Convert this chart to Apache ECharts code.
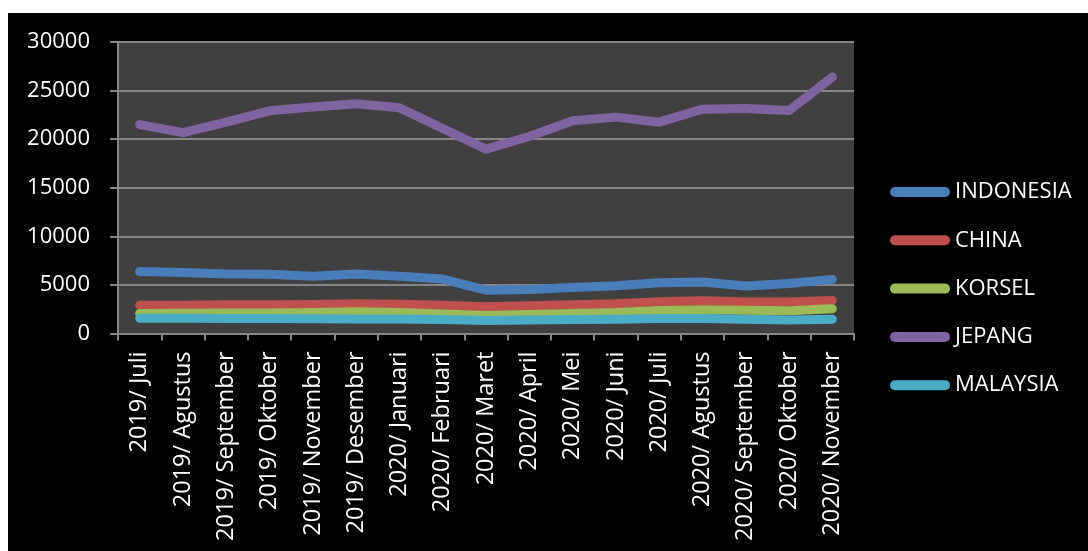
<!DOCTYPE html>
<html>
<head>
<meta charset="utf-8">
<script src="https://cdn.jsdelivr.net/npm/echarts@6/dist/echarts.min.js"></script>
<style>
html,body{margin:0;padding:0;background:#fff;width:1088px;height:551px;overflow:hidden;}
#chart{position:absolute;left:8px;top:13px;width:1080px;height:538px;}
</style>
</head>
<body>
<div id="chart"></div>
<script>
const categories = ['2019/ Juli','2019/ Agustus','2019/ September','2019/ Oktober','2019/ November','2019/ Desember','2020/ Januari','2020/ Februari','2020/ Maret','2020/ April','2020/ Mei','2020/ Juni','2020/ Juli','2020/ Agustus','2020/ September','2020/ Oktober','2020/ November'];
const indonesia = [6370, 6270, 6130, 6100, 5900, 6130, 5900, 5600, 4460, 4530, 4740, 4910, 5220, 5290, 4880, 5150, 5570];
const china     = [2920, 2920, 2950, 2950, 2980, 3050, 3000, 2900, 2750, 2850, 2950, 3050, 3280, 3380, 3250, 3250, 3400];
const korsel    = [2060, 2080, 2100, 2120, 2150, 2230, 2150, 2000, 1850, 1950, 2050, 2150, 2370, 2450, 2400, 2350, 2540];
const jepang    = [21500, 20680, 21750, 22920, 23300, 23640, 23230, 21100, 18970, 20270, 21890, 22270, 21750, 23090, 23160, 22950, 26390];
const malaysia  = [1580, 1560, 1550, 1540, 1530, 1500, 1480, 1450, 1350, 1380, 1450, 1470, 1550, 1550, 1470, 1400, 1470];
const seriesNames = ['INDONESIA','CHINA','KORSEL','JEPANG','MALAYSIA'];
const seriesData = [indonesia, china, korsel, jepang, malaysia];
const colors = ['#4a7ebb','#c0504d','#9bbb59','#8064a2','#4bacc6'];

const chart = echarts.init(document.getElementById('chart'), null, {renderer:'canvas'});
const font = 'Open Sans';
chart.setOption({
  backgroundColor: '#000',
  animation: false,
  color: colors,
  grid: {
    left: 110, top: 29, right: 234, bottom: 217.5,
    show: true, backgroundColor: '#404040', borderWidth: 0
  },
  legend: {
    orient: 'vertical',
    left: 877, top: 159,
    itemWidth: 60, itemHeight: 10, itemGap: 18.3,
    icon: 'path://M5,0 L55,0 A5,5 0 0 1 55,10 L5,10 A5,5 0 0 1 5,0 Z',
    textStyle: {color: '#fff', fontFamily: font, fontSize: 22, lineHeight: 30},
    data: seriesNames
  },
  xAxis: {
    type: 'category',
    data: categories,
    boundaryGap: true,
    axisLine: {lineStyle: {color: '#868686', width: 2}},
    axisTick: {show: true, alignWithLabel: false, length: 7, lineStyle: {color: '#868686', width: 2}},
    axisLabel: {rotate: 90, interval: 0, color: '#fff', fontFamily: font, fontSize: 23.5, margin: 18},
    splitLine: {show: false}
  },
  yAxis: {
    type: 'value',
    min: 0, max: 30000, interval: 5000,
    axisLine: {show: true, lineStyle: {color: '#868686', width: 2}},
    axisTick: {show: true, length: 8, lineStyle: {color: '#868686', width: 2}},
    axisLabel: {color: '#fff', fontFamily: font, fontSize: 22, margin: 28, formatter: v => String(v)},
    splitLine: {show: true, lineStyle: {color: '#868686', width: 2}}
  },
  series: seriesNames.map((n, i) => ({
    name: n,
    type: 'line',
    data: seriesData[i],
    showSymbol: false,
    symbol: 'none',
    lineStyle: {width: 9, color: colors[i], cap: 'round', join: 'round'},
    itemStyle: {color: colors[i]}
  }))
});
</script>
</body>
</html>
